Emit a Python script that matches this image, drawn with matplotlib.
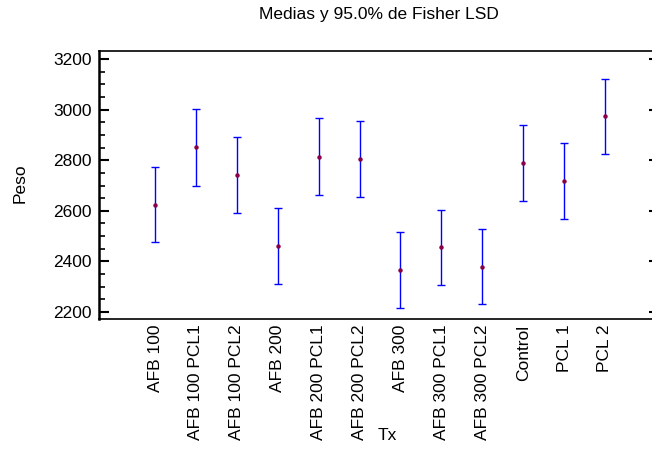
import numpy as np
import matplotlib.pyplot as plt
from matplotlib.ticker import MultipleLocator

plt.rcParams['font.family'] = ['Liberation Sans', 'DejaVu Sans']

# Treatments and means
treatments = ["AFB 100", "AFB 100 PCL1", "AFB 100 PCL2", "AFB 200",
              "AFB 200 PCL1", "AFB 200 PCL2", "AFB 300", "AFB 300 PCL1",
              "AFB 300 PCL2", "Control", "PCL 1", "PCL 2"]
means = [2624, 2851, 2741, 2461, 2814, 2804, 2367, 2455, 2379, 2790, 2719, 2973]
lower = [2475, 2699, 2591, 2312, 2664, 2655, 2217, 2305, 2230, 2640, 2569, 2823]
upper = [2774, 3002, 2892, 2611, 2966, 2954, 2516, 2604, 2529, 2940, 2868, 3122]

means = np.array(means)
err = np.array([means - np.array(lower), np.array(upper) - means])
x = np.arange(len(treatments))

fig = plt.figure(figsize=(6.52, 4.49), dpi=100)
ax = fig.add_axes([0.1518, 0.2895, 0.8482, 0.5969])

ax.errorbar(x, means, yerr=err, fmt='none', ecolor='#0000ff',
            elinewidth=1.0, capsize=3.0, capthick=1.0)
ax.plot(x, means, 'o', color='#8b0045', markersize=2.2, zorder=3)

ax.set_xlim(-1.37, 12.15)
ax.set_ylim(2172, 3232)
ax.yaxis.set_major_locator(MultipleLocator(200))
ax.yaxis.set_minor_locator(MultipleLocator(50))

ax.set_xticks(x)
ax.set_xticklabels(treatments, rotation=90, va='top')
ax.tick_params(axis='x', length=0, pad=4, labelsize=12.5)
ax.tick_params(axis='y', which='major', direction='in', length=7,
               width=1.5, labelsize=12.5, pad=5, right=True)
ax.tick_params(axis='y', which='minor', direction='in', length=4.3,
               width=1.2)
ax.yaxis.set_tick_params(which='minor', right=False)

ax.spines['right'].set_visible(False)
ax.spines['left'].set_linewidth(1.8)
ax.spines['top'].set_linewidth(1.2)
ax.spines['bottom'].set_linewidth(1.2)
for t in ax.yaxis.get_major_ticks():
    t.tick2line.set_markersize(2.5)

fig.text(379 / 652, 1 - 15 / 449, "Medias y 95.0% de Fisher LSD",
         ha='center', va='center', fontsize=12.5)
fig.text(20 / 652, 1 - 183 / 449, "Peso", rotation=90,
         ha='center', va='center', fontsize=12.5)
fig.text(387 / 652, 1 - 436 / 449, "Tx", ha='center', va='center',
         fontsize=12.5)

fig.savefig("out.png", dpi=100)
